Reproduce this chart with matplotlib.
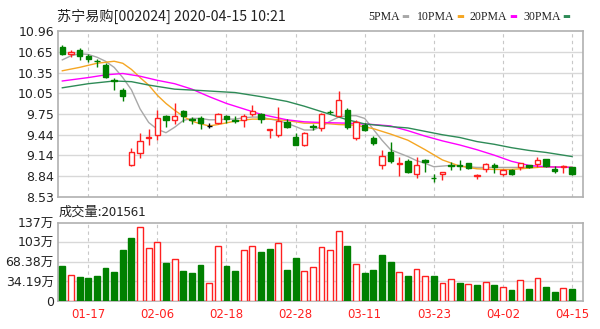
import matplotlib
matplotlib.use("Agg")
import matplotlib.pyplot as plt
import numpy as np

plt.rcParams['font.family'] = ['DejaVu Sans', 'Noto Sans CJK SC']

# 60 trading days, 2020-01-14 .. 2020-04-15
opens = [10.73, 10.62, 10.69, 10.60, 10.53, 10.47, 10.24, 10.10, 9.00, 9.17,
         9.39, 9.44, 9.72, 9.66, 9.79, 9.67, 9.69, 9.57, 9.61, 9.72,
         9.66, 9.66, 9.74, 9.74, 9.51, 9.44, 9.63, 9.41, 9.29, 9.57,
         9.54, 9.78, 9.72, 9.80, 9.39, 9.59, 9.39, 9.00, 9.18, 9.01,
         9.06, 8.87, 9.07, 8.81, 8.87, 8.99, 9.00, 9.03, 8.84, 8.93,
         8.99, 8.86, 8.92, 8.97, 8.99, 9.01, 9.08, 8.93, 8.96, 8.96]
highs = [10.76, 10.69, 10.71, 10.62, 10.56, 10.49, 10.27, 10.12, 9.24, 9.47,
         9.53, 9.80, 9.73, 9.91, 9.80, 9.70, 9.72, 9.61, 9.76, 9.73,
         9.71, 9.75, 9.88, 9.76, 9.52, 9.85, 9.67, 9.46, 9.48, 9.60,
         9.76, 9.80, 10.09, 9.83, 9.66, 9.61, 9.42, 9.22, 9.33, 9.12,
         9.09, 9.12, 9.09, 8.87, 8.89, 9.04, 9.07, 9.03, 8.86, 9.03,
         9.02, 8.93, 8.93, 9.03, 9.00, 9.12, 9.09, 8.98, 9.00, 8.97]
lows = [10.61, 10.58, 10.54, 10.51, 10.44, 10.28, 10.10, 9.93, 8.98, 9.10,
        9.29, 9.36, 9.55, 9.60, 9.63, 9.60, 9.53, 9.54, 9.60, 9.62,
        9.61, 9.56, 9.72, 9.61, 9.39, 9.40, 9.54, 9.29, 9.28, 9.51,
        9.50, 9.75, 9.71, 9.53, 9.37, 9.50, 9.29, 8.93, 9.03, 8.83,
        8.88, 8.81, 8.89, 8.75, 8.77, 8.92, 8.92, 8.94, 8.79, 8.90,
        8.88, 8.83, 8.85, 8.92, 8.95, 8.96, 8.97, 8.88, 8.88, 8.85]
closes = [10.62, 10.66, 10.60, 10.55, 10.52, 10.29, 10.23, 10.01, 9.18, 9.35,
          9.41, 9.69, 9.66, 9.72, 9.71, 9.65, 9.62, 9.57, 9.75, 9.67,
          9.64, 9.72, 9.79, 9.67, 9.52, 9.64, 9.56, 9.29, 9.47, 9.55,
          9.74, 9.77, 9.95, 9.56, 9.63, 9.51, 9.32, 9.13, 9.05, 9.03,
          8.90, 9.00, 9.04, 8.80, 8.89, 8.98, 8.98, 8.95, 8.85, 9.01,
          8.96, 8.92, 8.86, 9.02, 8.97, 9.07, 8.98, 8.91, 8.98, 8.86]

# volume in 万手, and whether the bar is drawn red (up vs previous close)
volume = [60.5, 46.0, 41.9, 40.2, 43.6, 58.2, 50.6, 88.5, 110.6, 128.6,
          91.9, 102.4, 66.9, 73.9, 52.4, 48.3, 62.3, 32.0, 96.0, 60.5,
          52.4, 88.5, 96.0, 86.1, 90.2, 100.7, 54.1, 74.5, 52.4, 59.9,
          94.3, 88.5, 122.2, 96.6, 64.0, 48.3, 54.1, 80.3, 68.1, 50.0,
          43.6, 55.9, 43.6, 43.6, 31.4, 39.0, 32.0, 29.7, 27.4, 33.2,
          27.4, 23.9, 19.2, 37.2, 21.5, 39.6, 23.9, 15.7, 22.1, 20.16]
vol_red = [0, 1, 0, 0, 0, 0, 0, 0, 0, 1, 1, 1, 0, 1, 0, 0, 0, 1, 1, 0,
           0, 1, 1, 0, 0, 1, 0, 0, 1, 1, 1, 1, 1, 0, 1, 0, 0, 0, 0, 1,
           0, 1, 1, 0, 1, 1, 0, 1, 0, 1, 0, 1, 0, 1, 0, 1, 0, 0, 1, 0]

# moving averages (day index -> price)
ma5_idx = list(range(0, 49)) + [50, 53, 56, 59]
ma5 = [10.54, 10.60, 10.63, 10.62, 10.58, 10.52, 10.43, 10.28, 10.10, 9.82,
       9.62, 9.52, 9.47, 9.55, 9.65, 9.68, 9.68, 9.66, 9.66, 9.67,
       9.67, 9.69, 9.70, 9.70, 9.67, 9.65, 9.61, 9.56, 9.51, 9.51,
       9.56, 9.64, 9.70, 9.72, 9.72, 9.68, 9.52, 9.36, 9.22, 9.17,
       9.12, 9.06, 9.02, 8.97, 8.98, 8.99, 8.98, 8.97, 8.96, 8.96,
       8.96, 8.97, 8.96]
ma10_idx = [0, 2, 4, 6, 7, 8, 9, 10, 11, 12, 13, 14, 15, 16, 17, 18, 20, 22, 24,
            26, 28, 30, 32, 34, 36, 37, 38, 40, 42, 44, 46, 48, 50, 52, 54, 56, 59]
ma10 = [10.38, 10.43, 10.49, 10.52, 10.49, 10.40, 10.28, 10.17, 10.02, 9.90,
        9.80, 9.71, 9.64, 9.60, 9.57, 9.59, 9.64, 9.67, 9.67,
        9.65, 9.61, 9.61, 9.59, 9.58, 9.53, 9.49, 9.45, 9.36, 9.22, 9.07,
        8.98, 8.94, 8.93, 8.93, 8.95, 8.97, 8.96]
ma20_idx = [0, 3, 5, 7, 9, 11, 13, 15, 17, 19, 21, 23, 26, 28, 30, 33, 36, 38,
            40, 42, 44, 46, 48, 50, 52, 54, 56, 59]
ma20 = [10.23, 10.28, 10.32, 10.34, 10.30, 10.24, 10.19, 10.11, 10.00, 9.90,
        9.82, 9.74, 9.66, 9.63, 9.62, 9.61, 9.59, 9.57, 9.50, 9.42, 9.35,
        9.29, 9.22, 9.14, 9.05, 8.99, 8.97, 8.96]
ma30_idx = [0, 3, 6, 8, 10, 13, 16, 20, 23, 26, 28, 30, 33, 35, 38, 40, 42, 44,
            46, 48, 50, 52, 54, 56, 58, 59]
ma30 = [10.13, 10.19, 10.23, 10.22, 10.17, 10.11, 10.09, 10.06, 10.00, 9.93,
        9.86, 9.78, 9.66, 9.60, 9.56, 9.54, 9.49, 9.44, 9.40, 9.34, 9.30,
        9.25, 9.21, 9.18, 9.14, 9.12]

tick_idx = [3, 11, 19, 27, 35, 43, 51, 59]
tick_dates = ['01-17', '02-06', '02-18', '02-28', '03-11', '03-23', '04-02', '04-15']
price_labels = ['8.53', '8.84', '9.14', '9.44', '9.75', '10.05', '10.35', '10.65', '10.96']
vol_labels = ['0', '34.19万', '68.38万', '103万', '137万']

RED = '#ff2020'
GREEN = '#008000'
GRID = '#d8d8d8'
BORDER = '#b0b0b0'

fig = plt.figure(figsize=(6, 3.29), dpi=100)
ax = fig.add_axes([58 / 600, 1 - 196.7 / 329, 525 / 600, 165.4 / 329])
axv = fig.add_axes([58 / 600, 1 - 301 / 329, 525 / 600, 78.3 / 329])

x = np.arange(len(closes))
xlim = (-0.5, 60.27)

# ---- price panel
ax.set_xlim(*xlim)
ax.set_ylim(8.53, 10.96)
pt = np.linspace(8.53, 10.96, 9)
ax.set_yticks(pt)
ax.set_yticklabels(price_labels)
for y in pt[1:-1]:
    ax.axhline(y, color=GRID, lw=1, zorder=0)
for t in tick_idx:
    ax.axvline(t, color='#c8c8c8', lw=0.8, ls=(0, (3, 3)), zorder=0)

ax.plot(ma5_idx, ma5, color='#a8a8a8', lw=1, zorder=2)
ax.plot(ma10_idx, ma10, color='#f5a623', lw=1, zorder=2)
ax.plot(ma20_idx, ma20, color='#ff00ff', lw=1, zorder=2)
ax.plot(ma30_idx, ma30, color='#2e8b57', lw=1, zorder=2)

for i in x:
    o, h, l, c = opens[i], highs[i], lows[i], closes[i]
    if c > o:
        col, face = RED, 'white'
    elif c < o:
        col, face = GREEN, GREEN
    else:
        col, face = 'black', 'black'
    ax.vlines(i, l, h, color=col, lw=1, zorder=3)
    ax.bar(i, max(abs(c - o), 0.006), bottom=min(o, c), width=0.62,
           facecolor=face, edgecolor=col, lw=1, zorder=4)

# ---- volume panel
axv.set_xlim(*xlim)
axv.set_ylim(0, 136.76)
vt = np.linspace(0, 136.76, 5)
axv.set_yticks(vt)
axv.set_yticklabels(vol_labels)
for y in vt[1:-1]:
    axv.axhline(y, color=GRID, lw=1, zorder=0)
for t in tick_idx:
    axv.axvline(t, color='#c8c8c8', lw=0.8, ls=(0, (3, 3)), zorder=0)
for i in x:
    if vol_red[i]:
        axv.bar(i, volume[i], width=0.68, facecolor='white', edgecolor=RED, lw=1, zorder=3)
    else:
        axv.bar(i, volume[i], width=0.68, facecolor=GREEN, edgecolor=GREEN, lw=1, zorder=3)
axv.set_xticks(tick_idx)
axv.set_xticklabels(tick_dates, color=RED, fontsize=8.5)

for a in (ax, axv):
    for s in a.spines.values():
        s.set_color(BORDER)
        s.set_linewidth(1.2)
    a.tick_params(length=0, labelsize=9, labelcolor='#222222', pad=3)
ax.set_xticks([])
axv.tick_params(axis='x', labelcolor=RED, labelsize=8.5, pad=5)

# ---- texts
fig.text(57 / 600, 1 - 16 / 329, '苏宁易购[002024] 2020-04-15 10:21', fontsize=10.2,
         va='center', ha='left', color='#222222',
         family=['Noto Sans CJK SC', 'DejaVu Sans'])
fig.text(59 / 600, 1 - 212 / 329, '成交量:201561', fontsize=9.5,
         va='center', ha='left', color='#222222',
         family=['Noto Sans CJK SC', 'DejaVu Sans'])

legend_items = [('5PMA', '#a8a8a8', 368), ('10PMA', '#f5a623', 417),
                ('20PMA', '#ff00ff', 470), ('30PMA', '#2e8b57', 523)]
for name, col, px in legend_items:
    t = fig.text(px / 600, 1 - 17 / 329, name, fontsize=8.5, va='center', ha='left',
                 color='#222222', family='Liberation Serif')
    fig.canvas.draw()
    bb = t.get_window_extent()
    fig.text((bb.x1 + 2) / 600, 1 - 17 / 329, '▬', fontsize=6, va='center',
             ha='left', color=col)

fig.savefig('out.png', dpi=100)
